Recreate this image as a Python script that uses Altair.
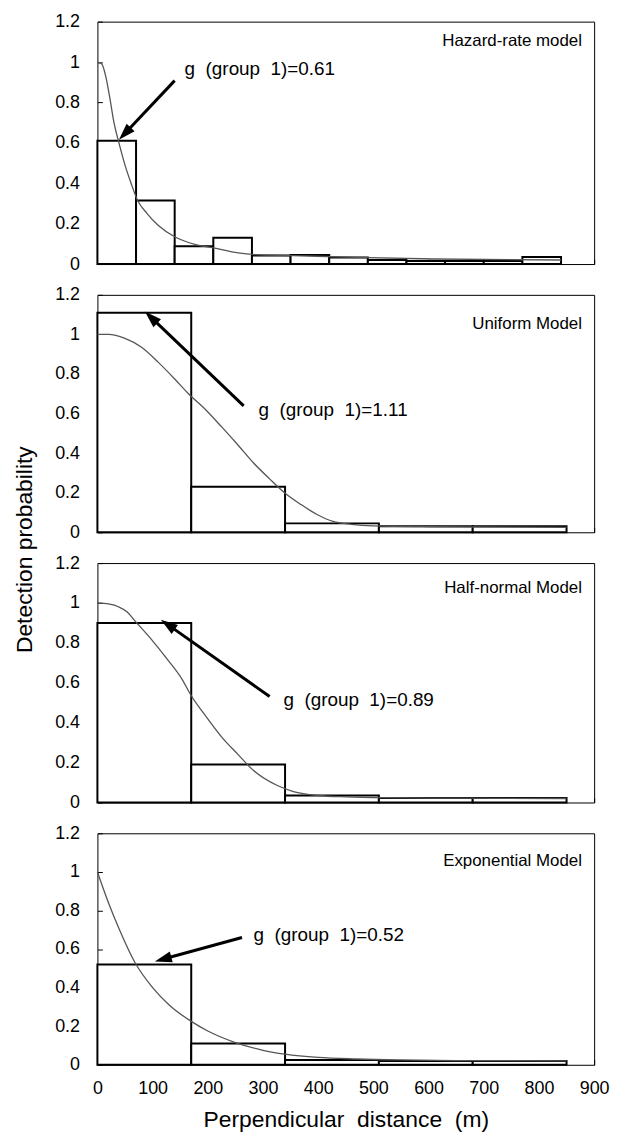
import math
import altair as alt
import pandas as pd

# ---------------- data ----------------
# histogram bin edges (m)
hz_edges = [0, 70, 140, 210, 280, 350, 420, 490, 560, 630, 700, 770, 840]
hz_heights = [0.61, 0.315, 0.088, 0.13, 0.042, 0.045, 0.032, 0.02, 0.015, 0.015, 0.015, 0.035]

fit_edges = [0, 170, 340, 510, 680, 850]
un_heights = [1.11, 0.23, 0.045, 0.03, 0.03]
hn_heights = [0.90, 0.19, 0.035, 0.022, 0.022]
ex_heights = [0.52, 0.11, 0.025, 0.02, 0.02]

# fitted detection curves (m, g)
hz_cx = [0, 8, 15, 22, 30, 39, 50, 61, 72, 90, 111, 140, 180, 210, 255, 285, 355, 470, 610, 840]
hz_cy = [1.0, 0.99, 0.93, 0.83, 0.70, 0.60, 0.49, 0.40, 0.32, 0.25, 0.19, 0.135, 0.095, 0.08,
         0.055, 0.047, 0.042, 0.033, 0.025, 0.02]

un_cx = [0, 20, 50, 80, 110, 140, 165, 197, 226, 255, 283, 312, 339, 369, 398, 427, 460, 500, 600, 850]
un_cy = [1.0, 1.0, 0.98, 0.935, 0.86, 0.775, 0.70, 0.617, 0.53, 0.44, 0.35, 0.27, 0.20, 0.14,
         0.09, 0.055, 0.04, 0.032, 0.028, 0.025]

hn_cx = [0, 20, 39, 54, 68, 97, 126, 154, 169, 197, 226, 255, 283, 326, 355, 400, 450, 520, 650, 850]
hn_cy = [1.0, 0.995, 0.98, 0.955, 0.91, 0.82, 0.72, 0.615, 0.54, 0.43, 0.325, 0.24, 0.16, 0.085,
         0.055, 0.035, 0.028, 0.024, 0.022, 0.02]

ex_cx = [0, 20, 40, 68, 100, 130, 170, 200, 250, 300, 340, 400, 470, 550, 650, 850]
ex_cy = [1.0, 0.84, 0.70, 0.53, 0.40, 0.31, 0.225, 0.175, 0.115, 0.075, 0.055, 0.038, 0.03,
         0.025, 0.022, 0.02]

model_names = ["Hazard-rate model", "Uniform Model", "Half-normal Model", "Exponential Model"]
g_labels = ["g\u00a0 (group\u00a0 1)=0.61", "g\u00a0 (group\u00a0 1)=1.11",
            "g\u00a0 (group\u00a0 1)=0.89", "g\u00a0 (group\u00a0 1)=0.52"]

# annotation anchors in data units (m, probability)
g_text_x = [158, 292, 337, 283]
g_text_y = [0.966, 0.62, 0.514, 0.67]
arrow_tail_x = [140, 265, 312, 262]
arrow_tail_y = [0.908, 0.639, 0.531, 0.66]
arrow_tip_x = [39, 86, 115, 104]
arrow_tip_y = [0.615, 1.116, 0.916, 0.536]
name_x = [878, 878, 878, 878]
name_y = [1.103, 1.054, 1.074, 1.056]

x_ticks = [0, 100, 200, 300, 400, 500, 600, 700, 800, 900]
y_ticks = [0, 0.2, 0.4, 0.6, 0.8, 1, 1.2]

# ---------------- layout ----------------
W = 500
panel_heights = [244, 239, 241, 233]
FONT = "Liberation Sans"

panels_data = [
    (hz_edges, hz_heights, hz_cx, hz_cy),
    (fit_edges, un_heights, un_cx, un_cy),
    (fit_edges, hn_heights, hn_cx, hn_cy),
    (fit_edges, ex_heights, ex_cx, ex_cy),
]


def make_panel(i):
    edges, hts, cx, cy = panels_data[i]
    H = panel_heights[i]
    last = i == 3
    xs = alt.Scale(domain=[0, 900], nice=False, zero=False)
    ys = alt.Scale(domain=[0, 1.2], nice=False)

    if last:
        xaxis = alt.Axis(values=x_ticks, tickSize=5, offset=-5, domain=False, grid=False,
                         labelPadding=15, titlePadding=11, labelFlush=False,
                         title="Perpendicular\u00a0 distance\u00a0 (m)")
    else:
        xaxis = alt.Axis(values=x_ticks, tickSize=5, offset=-5, domain=False, grid=False,
                         labels=False, title="")
    if i == 1:
        yaxis = alt.Axis(values=y_ticks, format="~g", tickSize=5, offset=-5, labelPadding=18,
                         labelFlush=False,
                         domain=False, grid=False, title="Detection probability",
                         titleX=-78, titleY=256, titleAngle=270, titleAlign="center",
                         titleBaseline="middle")
    else:
        yaxis = alt.Axis(values=y_ticks, format="~g", tickSize=5, offset=-5, labelPadding=18,
                         labelFlush=False, domain=False, grid=False, title="")

    def X(f):
        return alt.X(f, scale=xs, axis=xaxis)

    def Y(f):
        return alt.Y(f, scale=ys, axis=yaxis)

    bars_df = pd.DataFrame({"x0": edges[:-1], "x1": edges[1:], "h": hts})
    bars = alt.Chart(bars_df).mark_rect(fill="white", stroke="black", strokeWidth=2).encode(
        x=X("x0:Q"),
        x2="x1:Q",
        y=Y("h:Q"),
        y2=alt.datum(0),
    )

    curve_df = pd.DataFrame({"x": cx, "y": cy})
    curve = alt.Chart(curve_df).mark_line(color="#555555", strokeWidth=1.3,
                                          interpolate="monotone").encode(
        x=X("x:Q"), y=Y("y:Q"),
    )

    # arrow geometry in pixel space
    kx = W / 900.0
    ky = H / 1.2
    sx, sy = arrow_tail_x[i], arrow_tail_y[i]
    tx, ty = arrow_tip_x[i], arrow_tip_y[i]
    dxp = (tx - sx) * kx
    dyp = -(ty - sy) * ky
    L = math.hypot(dxp, dyp)
    ux, uy = dxp / L, dyp / L
    ang = math.degrees(math.atan2(dxp, -dyp)) % 360
    ex_ = tx - 9 * ux / kx
    ey_ = ty + 9 * uy / ky

    arrow_df = pd.DataFrame({"x": [sx], "y": [sy], "x2": [ex_], "y2": [ey_]})
    arrow_line = alt.Chart(arrow_df).mark_rule(color="black", strokeWidth=3).encode(
        x=X("x:Q"), y=Y("y:Q"), x2="x2:Q", y2="y2:Q",
    )
    head_df = pd.DataFrame({"x": [tx], "y": [ty]})
    arrow_head = alt.Chart(head_df).mark_point(
        shape="M0,0L0.9,2.8L-0.9,2.8Z", filled=True, color="black", opacity=1,
        size=150, angle=ang, strokeWidth=0,
    ).encode(x=X("x:Q"), y=Y("y:Q"))

    gtext_df = pd.DataFrame({"x": [g_text_x[i]], "y": [g_text_y[i]], "t": [g_labels[i]]})
    gtext = alt.Chart(gtext_df).mark_text(align="left", baseline="middle", font=FONT,
                                          fontSize=19, color="black").encode(
        x=X("x:Q"), y=Y("y:Q"), text="t:N",
    )

    name_df = pd.DataFrame({"x": [name_x[i]], "y": [name_y[i]], "t": [model_names[i]]})
    name = alt.Chart(name_df).mark_text(align="right", baseline="middle", font=FONT,
                                        fontSize=17, color="black").encode(
        x=X("x:Q"), y=Y("y:Q"), text="t:N",
    )

    return alt.layer(bars, curve, arrow_line, arrow_head, gtext, name).properties(
        width=W, height=H
    )


chart = alt.vconcat(*[make_panel(i) for i in range(4)], spacing=31, bounds="flush",
                    background="white",
                    padding={"top": 0, "left": 5, "right": 5, "bottom": 5}).configure_view(
    stroke="black", strokeWidth=1
).configure_axis(
    labelFont=FONT, labelFontSize=18, labelColor="black",
    titleFont=FONT, titleFontSize=23, titleFontWeight="normal", titleColor="black",
    tickColor="black", tickWidth=1,
)

chart.save("out.html", embed_options={"renderer": "svg", "actions": False})
